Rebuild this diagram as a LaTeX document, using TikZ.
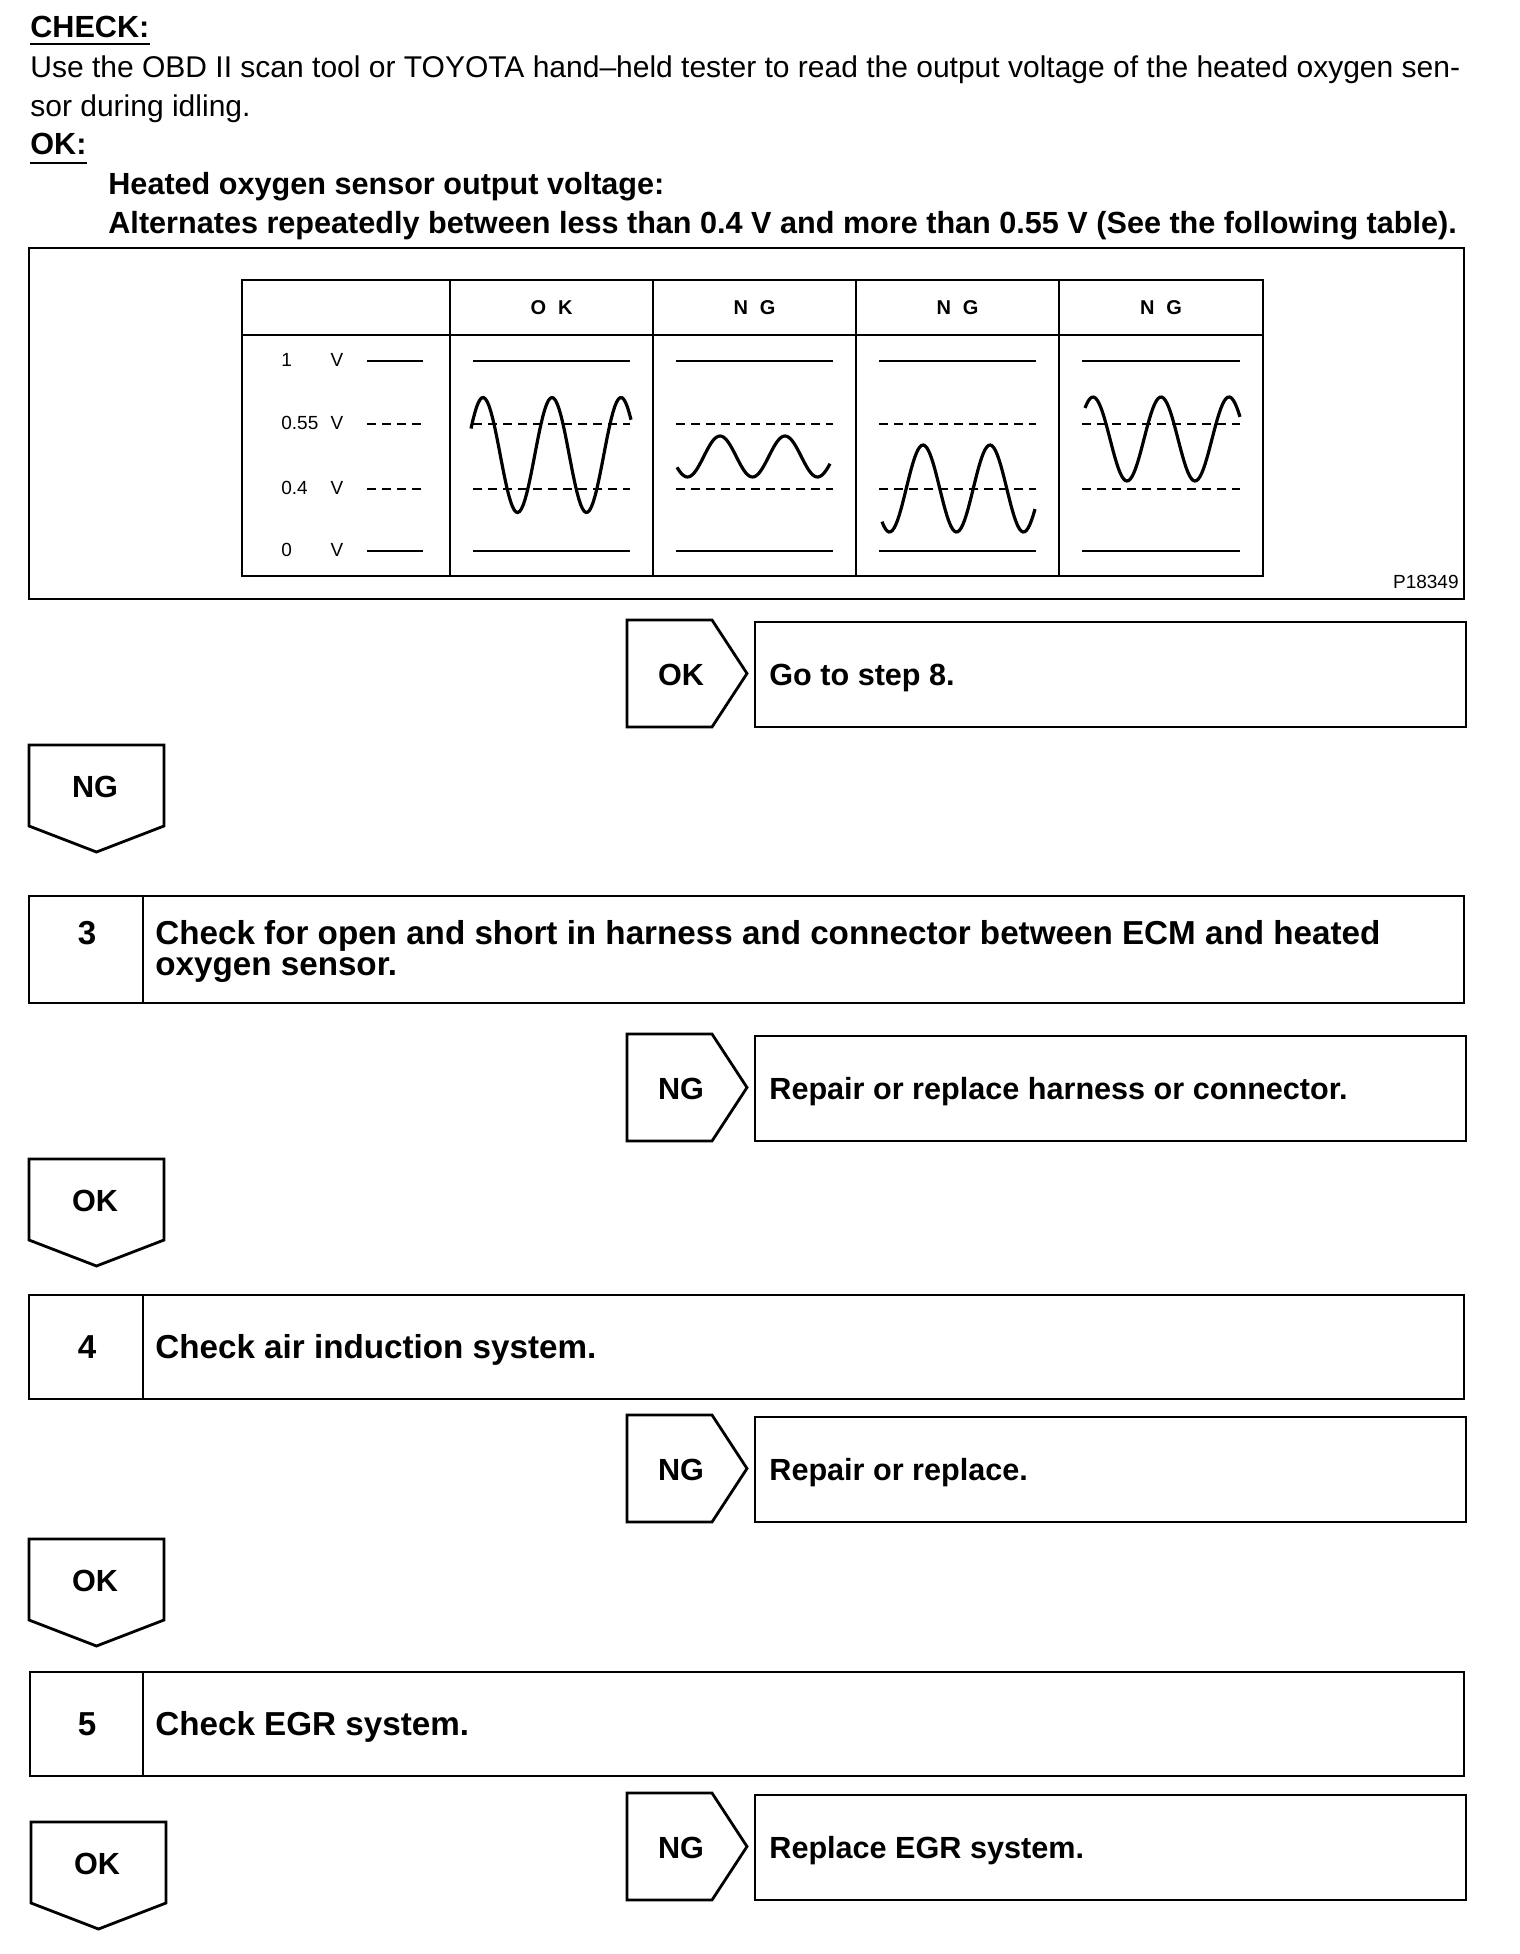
\documentclass[tikz,border=0pt]{standalone}
\usepackage{fontspec}
\setmainfont{Liberation Sans}
\usetikzlibrary{positioning}

\tikzset{
  frame/.style={line width=1.4pt},
  rule/.style={line width=1.2pt},
  dashrule/.style={line width=1.2pt, dash pattern=on 4.5pt off 3pt},
  wave/.style={line width=1.6pt},
  txt/.style={inner sep=0pt, font=\fontsize{15}{18}\selectfont},
  btxt/.style={inner sep=0pt, font=\bfseries\fontsize{15.3}{18}\selectfont},
  steptxt/.style={inner sep=0pt, font=\bfseries\fontsize{16.6}{18}\selectfont},
  axtxt/.style={inner sep=0pt, font=\fontsize{9.5}{11}\selectfont},
  headtxt/.style={inner sep=0pt, font=\bfseries\fontsize{10}{12}\selectfont},
}

\begin{document}
\begin{tikzpicture}[x=0.5pt,y=-0.5pt]
  \useasboundingbox (0,0) rectangle (1520,1954);

  % check and spec
  \node[btxt, anchor=base west] (check) at (30,37) {CHECK:};
  \draw[line width=0.8pt] ([yshift=-3.5pt]check.base west) -- ([yshift=-3.5pt]check.base east);
  \node[txt, anchor=base west] (use1) at (30,77) {Use the OBD II scan tool or TOYOTA hand--held tester to read the output voltage of the heated oxygen sen-};
  \node[txt, anchor=base west] (use2) at (30,116) {sor during idling.};
  \node[btxt, anchor=base west] (okhead) at (30,154) {OK:};
  \draw[line width=1pt] ([yshift=-4.5pt]okhead.base west) -- ([yshift=-4.5pt]okhead.base east);
  \node[btxt, anchor=base west] (spec1) at (108,194) {Heated oxygen sensor output voltage:};
  \node[btxt, anchor=base west] (spec2) at (108,233) {Alternates repeatedly between less than 0.4 V and more than 0.55 V (See the following table).};

  % figure with the table
  \draw[frame] (29,248) rectangle (1464,599);
  \node[axtxt, anchor=base east] (figno) at (1459,588) {P18349};
  \draw[frame] (242,280) rectangle (1263,576);
  \draw[frame] (242,335) -- (1263,335);
  \foreach \c in {450,653,856,1059}
    \draw[frame] (\c,280) -- (\c,576);
  \foreach \v/\y [count=\i] in {1/361,0.55/424,0.4/489,0/551}
    \node[axtxt, anchor=base west] (volt\i) at (281,\y+5) {\v};
  \foreach \y [count=\i] in {361,424,489,551}
    \node[axtxt, anchor=base] (unit\i) at (337,\y+5) {V};
  \draw[rule] (367,361) -- (423,361);
  \draw[dashrule] (367,424) -- (423,424);
  \draw[dashrule] (367,489) -- (423,489);
  \draw[rule] (367,551) -- (423,551);
  \foreach \l/\r/\t [count=\i] in {450/653/{O\hspace{6pt}K},653/856/{N\hspace{6pt}G},856/1059/{N\hspace{6pt}G},1059/1263/{N\hspace{6pt}G}} {
    \node[headtxt, anchor=base] (head\i) at ({(\l+\r)/2},314) {\t};
    \draw[rule] (\l+23,361) -- (\r-23,361);
    \draw[dashrule] (\l+23,424) -- (\r-23,424);
    \draw[dashrule] (\l+23,489) -- (\r-23,489);
    \draw[rule] (\l+23,551) -- (\r-23,551);
  }
  \foreach \a/\b/\m/\h/\p/\per in {471/631/455/57.5/483/69,677/830/456.5/20.5/720/65,882/1035/488.5/43.5/923/67,1085/1240/439/42/1093/68}
    \draw[wave] plot[domain=\a:\b, samples=90] (\x,{\m-\h*cos((\x-\p)/\per*360)});

  % side exits
  \foreach \y/\t/\r [count=\i] in {620/OK/{Go to step 8.},1034/NG/{Repair or replace harness or connector.},1415/NG/{Repair or replace.},1793/NG/{Replace EGR system.}} {
    \draw[frame] (627,\y) -- (712,\y) -- (747,\y+53.5) -- (712,\y+107) -- (627,\y+107) -- cycle;
    \draw[frame] (755,\y+2) rectangle (1466,\y+107);
    \node[btxt, anchor=base] (side\i) at (681,\y+65) {\t};
    \node[btxt, anchor=base west] (fix\i) at (769,\y+65) {\r};
  }

  % down exits
  \foreach \x/\y/\t [count=\i] in {29/745/NG,29/1159/OK,29/1539/OK,31/1822/OK} {
    \draw[frame] (\x,\y) -- (\x+135,\y) -- (\x+135,\y+81) -- (\x+67.5,\y+107) -- (\x,\y+81) -- cycle;
    \node[btxt, anchor=base] (down\i) at (\x+66,\y+52) {\t};
  }

  % steps
  \draw[frame] (29,896) rectangle (1464,1003);
  \draw[frame] (143,896) -- (143,1003);
  \node[steptxt, anchor=base] (num3) at (87,944) {3};
  \node[steptxt, anchor=base west] (step3a) at (155,944) {Check for open and short in harness and connector between ECM and heated};
  \node[steptxt, anchor=base west] (step3b) at ([yshift=-15.5pt]step3a.base west) {oxygen sensor.};

  \draw[frame] (29,1295) rectangle (1464,1399);
  \draw[frame] (143,1295) -- (143,1399);
  \node[steptxt, anchor=base] (num4) at (87,1358) {4};
  \node[steptxt, anchor=base west] (step4) at (155,1358) {Check air induction system.};

  \draw[frame] (30,1672) rectangle (1464,1776);
  \draw[frame] (143,1672) -- (143,1776);
  \node[steptxt, anchor=base] (num5) at (87,1735) {5};
  \node[steptxt, anchor=base west] (step5) at (155,1735) {Check EGR system.};
\end{tikzpicture}
\end{document}
